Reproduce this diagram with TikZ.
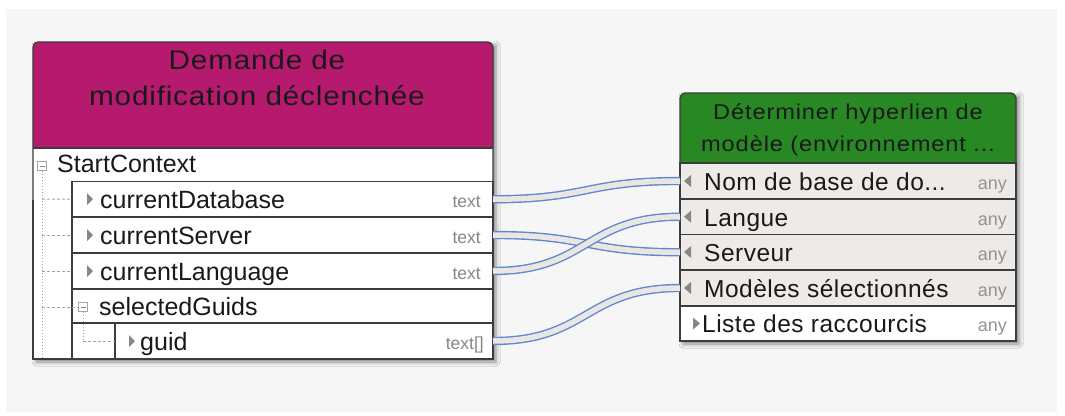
\documentclass[tikz,border=0pt]{standalone}
\usepackage{fontspec}
\setmainfont{Liberation Sans}
\newfontfamily\lhfont{Liberation Sans}[FakeStretch=1.1,LetterSpace=3]
\newfontfamily\rhfont{Liberation Sans}[FakeStretch=1.1,LetterSpace=4]
\newfontfamily\rrfont{Liberation Sans}[LetterSpace=2]
\usetikzlibrary{shadows.blur}
\definecolor{bgc}{RGB}{246,246,246}
\definecolor{magc}{RGB}{182,26,110}
\definecolor{grnc}{RGB}{40,136,36}
\definecolor{bordc}{RGB}{60,60,60}
\definecolor{inrow}{RGB}{238,234,231}
\definecolor{cblue}{RGB}{95,135,210}
\definecolor{cfill}{RGB}{234,231,227}
\definecolor{treec}{RGB}{165,165,165}
\definecolor{markc}{RGB}{135,135,135}
\definecolor{typec}{RGB}{135,135,135}
\begin{document}
\begin{tikzpicture}[x=1pt,y=-1pt,
  bord/.style={draw=bordc,line width=1.3pt},
  lrow/.style={bord,fill=white,anchor=north west,inner sep=0pt,outer sep=0pt},
  rrow/.style={bord,fill=inrow,anchor=north west,inner sep=0pt,outer sep=0pt,minimum width=336pt},
  boxshadow/.style={blur shadow={shadow xshift=3pt,shadow yshift=-3pt,shadow blur radius=4pt,shadow opacity=45}},
  rowtext/.style={font=\fontsize{25}{30}\selectfont,inner sep=0pt,anchor=base west,text=black!90},
  rtext/.style={font=\rrfont\fontsize{24.5}{30}\selectfont,inner sep=0pt,anchor=base west,text=black!90},
  typetext/.style={font=\fontsize{17.5}{20}\selectfont,inner sep=0pt,anchor=base east,text=typec},
  anytext/.style={font=\fontsize{18}{20}\selectfont,inner sep=0pt,anchor=base east,text=typec!90},
  lhtitle/.style={font=\lhfont\fontsize{27}{36}\selectfont,inner sep=0pt,anchor=base,text=black!90},
  rhtitle/.style={font=\rhfont\fontsize{21.5}{30}\selectfont,inner sep=0pt,anchor=base,text=black!90},
  treeicon/.style={draw=treec,fill=white,line width=0.9pt,minimum size=9pt,inner sep=0pt},
  treev/.style={draw=treec,line width=1pt,dash pattern=on 1.5pt off 1.5pt},
  treeh/.style={draw=treec,line width=1pt,dash pattern=on 3pt off 2pt},
  conn/.style={draw=cblue,line width=1.4pt,double=cfill,double distance=5.5pt},
]
\useasboundingbox (0,0) rectangle (1065,415);
\fill[white] (0,0) rectangle (1065,415);
\fill[bgc] (6,9) rectangle (1057,412);

% ---------- left box ----------
\path[boxshadow,fill=white] (33,42) rectangle (493,359);
\begin{scope}
  \clip (33,42) rectangle (493,148);
  \fill[magc,rounded corners=5pt] (33,42) rectangle (493,175);
\end{scope}
\node[lrow,minimum width=421pt,minimum height=35.5pt] (cdb) at (72,181.5) {};
\node[lrow,minimum width=421pt,minimum height=36pt] (csv) at (72,217) {};
\node[lrow,minimum width=421pt,minimum height=36pt] (clg) at (72,253) {};
\node[lrow,minimum width=421pt,minimum height=70pt] (sgbox) at (72,289) {};
\node[lrow,minimum width=421pt,minimum height=34pt,draw=none,fill=none] (sg) at (72,289) {};
\draw[bord] (72,323) -- (493,323);
\node[lrow,minimum width=378pt,minimum height=36pt] (gd) at (115,323) {};
\draw[bord,rounded corners=5pt] (33,200) -- (33,42) -- (493,42) -- (493,200);
\draw[bord] (33,200) -- (33,359) -- (493,359) -- (493,200);
\draw[bord] (33,148) -- (493,148);

\node[lhtitle] (lt1) at (257,69) {Demande de};
\node[lhtitle] (lt2) at (257,105) {modification déclenchée};

% tree
\node[treeicon] (ic1) at (42,166) {};
\draw[markc,line width=0.9pt] (39.5,166) -- (44.5,166);
\draw[treev] (ic1.south) -- (42,358);
\draw[treeh] (42,199) -- (cdb.west);
\draw[treeh] (42,235) -- (csv.west);
\draw[treeh] (42,271) -- (clg.west);
\node[treeicon] (ic2) at (83,307) {};
\draw[markc,line width=0.9pt] (80.5,307) -- (85.5,307);
\draw[treeh] (42,307) -- (ic2.west);
\draw[treev] (ic2.south) -- (83,341);
\draw[treeh] (83,341) -- (gd.west);

% markers
\fill[markc] (87,193) -- (93,199) -- (87,205) -- cycle;
\fill[markc] (87,229) -- (93,235) -- (87,241) -- cycle;
\fill[markc] (87,265) -- (93,271) -- (87,277) -- cycle;
\fill[markc] (129,335) -- (135,341) -- (129,347) -- cycle;

\node[rowtext] (t0) at (57,172) {StartContext};
\node[rowtext] (t1) at (100,208) {currentDatabase};
\node[rowtext] (t2) at (100,244) {currentServer};
\node[rowtext] (t3) at (100,280) {currentLanguage};
\node[rowtext] (t4) at (99,315.5) {selectedGuids};
\node[rowtext] (t5) at (140,350) {guid};

\node[typetext] (y1) at (481,207) {text};
\node[typetext] (y2) at (481,243) {text};
\node[typetext] (y3) at (481,279) {text};
\node[typetext] (y5) at (484,349) {text[]};

% ---------- right box ----------
\path[boxshadow,fill=white] (680,93) rectangle (1016,341);
\begin{scope}
  \clip (680,93) rectangle (1016,163);
  \fill[grnc,rounded corners=5pt] (680,93) rectangle (1016,190);
\end{scope}
\node[rrow,minimum height=36pt] (nom) at (680,163) {};
\node[rrow,minimum height=35.5pt] (lang) at (680,199) {};
\node[rrow,minimum height=35.5pt] (serv) at (680,234.5) {};
\node[rrow,minimum height=36pt] (mod) at (680,270) {};
\node[rrow,minimum height=35pt,fill=white] (liste) at (680,306) {};
\draw[bord,rounded corners=5pt] (680,200) -- (680,93) -- (1016,93) -- (1016,200);
\draw[bord] (680,200) -- (680,341) -- (1016,341) -- (1016,200);
\draw[bord] (680,163) -- (1016,163);

\node[rhtitle] (rt1) at (848,119.5) {Déterminer hyperlien de};
\node[rhtitle] (rt2) at (848,151) {modèle (environnement ...};

\fill[markc] (691,175) -- (684,181) -- (691,187) -- cycle;
\fill[markc] (691,210.7) -- (684,216.7) -- (691,222.7) -- cycle;
\fill[markc] (691,246) -- (684,252) -- (691,258) -- cycle;
\fill[markc] (691,282) -- (684,288) -- (691,294) -- cycle;
\fill[markc] (693,317.5) -- (700,323.5) -- (693,329.5) -- cycle;

\node[rtext] (r1) at (704,190) {Nom de base de do...};
\node[rtext] (r2) at (704,226) {Langue};
\node[rtext] (r3) at (704,261) {Serveur};
\node[rtext] (r4) at (704,297) {Modèles sélectionnés};
\node[rtext] (r5) at (702,332.5) {Liste des raccourcis};

\node[anytext] (a1) at (1007,189) {any};
\node[anytext] (a2) at (1007,225) {any};
\node[anytext] (a3) at (1007,260) {any};
\node[anytext] (a4) at (1007,296) {any};
\node[anytext] (a5) at (1007,331.5) {any};

% ---------- connectors ----------
\draw[conn] (cdb.east) .. controls +(95,0) and +(-95,0) .. (nom.west);
\draw[conn] (csv.east) .. controls +(95,0) and +(-95,0) .. (serv.west);
\draw[conn] (clg.east) .. controls +(95,0) and +(-95,0) .. (lang.west);
\draw[conn] (gd.east) .. controls +(95,0) and +(-95,0) .. (mod.west);
\end{tikzpicture}
\end{document}
